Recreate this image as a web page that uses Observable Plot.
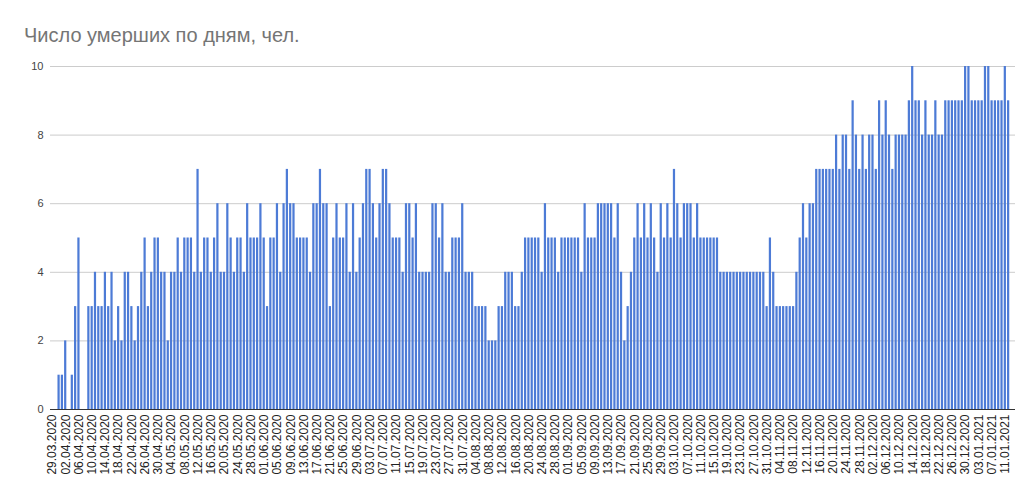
<!DOCTYPE html>
<html>
<head>
<meta charset="utf-8">
<script src="https://cdn.jsdelivr.net/npm/d3@7"></script>
<script src="https://cdn.jsdelivr.net/npm/@observablehq/plot@0.6"></script>
<style>
  html, body { margin: 0; padding: 0; background: #fff; }
  #wrap { position: relative; width: 1034px; height: 499px; overflow: hidden; }
  #title { position: absolute; left: 24px; top: 25px; line-height: 20px; font-size: 20px;
           font-family: "Liberation Sans", Arial, sans-serif; color: #757575; white-space: nowrap; }
  #chart { position: absolute; left: 0; top: 50px; }
</style>
</head>
<body>
<div id="wrap">
  <div id="title">Число умерших по дням, чел.</div>
  <div id="chart"></div>
</div>
<script>
const titleText = "Число умерших по дням, чел.";
const startDate = "2020-03-29";
const deaths = [
  0,0,1,1,2,0,1,3,5,0,
  0,3,3,4,3,3,4,3,4,2,
  3,2,4,4,3,2,3,4,5,3,
  4,5,5,4,4,2,4,4,5,4,
  5,5,5,4,7,4,5,5,4,5,
  6,4,4,6,5,4,5,5,4,6,
  5,5,5,6,5,3,5,5,6,4,
  6,7,6,6,5,5,5,5,4,6,
  6,7,6,6,3,5,6,5,5,6,
  4,6,4,5,6,7,7,6,5,6,
  7,7,6,5,5,5,4,6,6,5,
  6,4,4,4,4,6,6,5,6,4,
  4,5,5,5,6,4,4,4,3,3,
  3,3,2,2,2,3,3,4,4,4,
  3,3,4,5,5,5,5,5,4,6,
  5,5,5,4,5,5,5,5,5,5,
  4,6,5,5,5,6,6,6,6,6,
  5,6,4,2,3,4,5,6,5,6,
  5,6,5,4,6,5,6,5,7,6,
  5,6,6,6,5,6,5,5,5,5,
  5,5,4,4,4,4,4,4,4,4,
  4,4,4,4,4,4,3,5,4,3,
  3,3,3,3,3,4,5,6,5,6,
  6,7,7,7,7,7,7,8,7,8,
  8,7,9,8,7,8,7,8,8,7,
  9,8,9,8,7,8,8,8,8,9,
  10,9,9,8,9,8,8,9,8,8,
  9,9,9,9,9,9,10,10,9,9,
  9,9,10,10,9,9,9,9,10,9
];
const yTicks = [0, 2, 4, 6, 8, 10];
const tickEvery = 4;

const fmt = d3.utcFormat("%d.%m.%Y");
const start = new Date(startDate + "T00:00:00Z");
const dates = deaths.map((_, i) => fmt(d3.utcDay.offset(start, i)));
const xTickLabels = dates.filter((_, i) => i % tickEvery === 0);
const table = deaths.map((v, i) => ({date: dates[i], value: v}));

const chart = Plot.plot({
  width: 1034,
  height: 449,
  marginLeft: 50,
  marginRight: 19,
  marginTop: 16,
  marginBottom: 90,
  style: {fontFamily: "'Liberation Sans', Arial, sans-serif", fontSize: "12px", background: "#fff"},
  x: {type: "band", domain: dates, paddingInner: 0.33, paddingOuter: 1, align: 0.13, label: null},
  y: {domain: [0, 10], label: null},
  marks: [
    Plot.gridY(yTicks.filter(d => d > 0), {stroke: "#cccccc", strokeOpacity: 1}),
    Plot.barY(table, {x: "date", y: "value", fill: "#4d7bd6"}),
    Plot.ruleY([0], {stroke: "#333333"}),
    Plot.axisY({ticks: yTicks, tickSize: 0, tickPadding: 7, label: null, color: "#444444", fontSize: 11}),
    Plot.axisX({ticks: xTickLabels, tickRotate: -90, tickSize: 0, tickPadding: 5, label: null, color: "#222222", fontSize: 12})
  ]
});
document.getElementById("chart").appendChild(chart);
</script>
</body>
</html>
